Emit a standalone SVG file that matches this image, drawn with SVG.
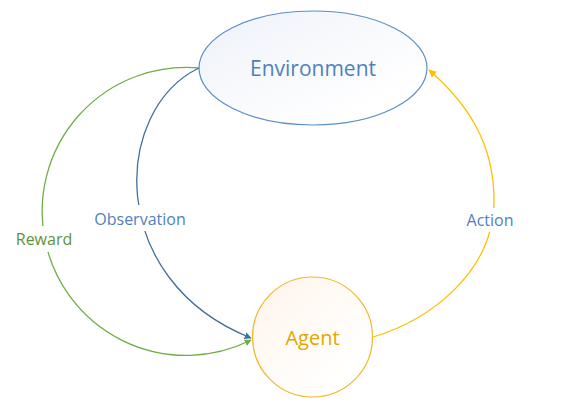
<svg xmlns="http://www.w3.org/2000/svg" width="568" height="413" viewBox="0 0 568 413">
<style>
.lbl{font-family:"Open Sans","Noto Sans","DejaVu Sans",sans-serif;}
.conn{fill:none;stroke-width:1.3;}
</style>
<defs>
<linearGradient id="gEnv" x1="0" y1="0" x2="1" y2="1">
<stop offset="0" stop-color="#eef2f9"/><stop offset="0.8" stop-color="#ffffff"/>
</linearGradient>
<linearGradient id="gAg" x1="0" y1="0" x2="1" y2="1">
<stop offset="0" stop-color="#fff5ea"/><stop offset="0.8" stop-color="#ffffff"/>
</linearGradient>
<marker id="aBlue" viewBox="0 0 10 10" refX="9" refY="5" markerWidth="7" markerHeight="7" orient="auto" markerUnits="userSpaceOnUse"><path d="M0,0 L10,5 L0,10 z" fill="#41719c"/></marker>
<marker id="aGreen" viewBox="0 0 10 10" refX="9" refY="5" markerWidth="7" markerHeight="7" orient="auto" markerUnits="userSpaceOnUse"><path d="M0,0 L10,5 L0,10 z" fill="#70ad47"/></marker>
<marker id="aYellow" viewBox="0 0 10 10" refX="9" refY="5" markerWidth="8" markerHeight="8" orient="auto" markerUnits="userSpaceOnUse"><path d="M0,0 L10,5 L0,10 z" fill="#ffc000"/></marker>
</defs>
<rect width="568" height="413" fill="#ffffff"/>
<g id="connectors">
<path class="conn" stroke="#70ad47" d="M199,68 A144,144 0 1 0 251,340" marker-end="url(#aGreen)"/>
<path class="conn" stroke="#41719c" d="M199,68 C112,110 105,280 251,338" marker-end="url(#aBlue)"/>
<path class="conn" stroke="#ffc000" d="M373,337 C430,320 494,272 494,200 C494,142 466,102 429,70" marker-end="url(#aYellow)"/>
<rect x="92" y="205" width="96" height="26" fill="#ffffff"/>
<rect x="13" y="226" width="62" height="26" fill="#ffffff"/>
<rect x="465" y="208" width="52" height="24" fill="#ffffff"/>
<text class="lbl" x="140" y="225" text-anchor="middle" font-size="16" fill="#4f81bd">Observation</text>
<text class="lbl" x="44" y="245" text-anchor="middle" font-size="16" fill="#5f9136">Reward</text>
<text class="lbl" x="490" y="226" text-anchor="middle" font-size="16" fill="#4f81bd">Action</text>
</g>
<g id="environment">
<ellipse cx="313" cy="68" rx="114" ry="57" fill="url(#gEnv)" stroke="#5b8ec8" stroke-width="1.2"/>
<text class="lbl" x="313" y="76" text-anchor="middle" font-size="21" fill="#4f81bd">Environment</text>
</g>
<g id="agent">
<circle cx="312.5" cy="337" r="60" fill="url(#gAg)" stroke="#f0b92c" stroke-width="1.2"/>
<text class="lbl" x="312.5" y="345" text-anchor="middle" font-size="20" fill="#e2a600">Agent</text>
</g>
</svg>
